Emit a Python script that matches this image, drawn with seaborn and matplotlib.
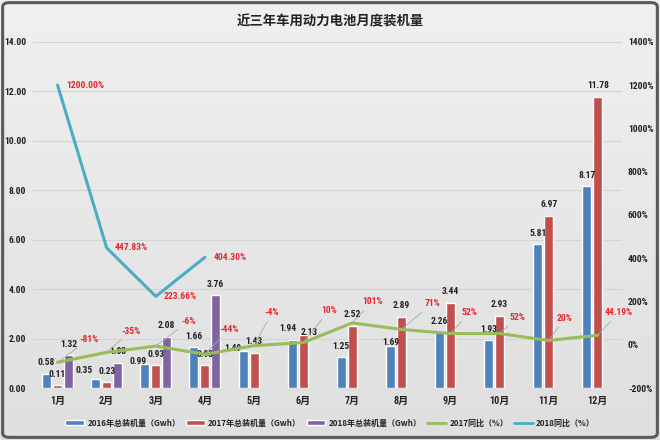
import numpy as np
import pandas as pd
import matplotlib
matplotlib.use("Agg")
import matplotlib.pyplot as plt
import seaborn as sns
from matplotlib import font_manager
from matplotlib.patches import Patch, FancyBboxPatch
from matplotlib.lines import Line2D
from matplotlib.ticker import FormatStrFormatter, FuncFormatter
from matplotlib.colors import LinearSegmentedColormap

# ---------------- data ----------------
months = ["1月", "2月", "3月", "4月", "5月", "6月", "7月", "8月", "9月", "10月", "11月", "12月"]
v2016 = [0.58, 0.35, 0.99, 1.66, 1.49, 1.94, 1.25, 1.69, 2.26, 1.93, 5.81, 8.17]
v2017 = [0.11, 0.23, 0.93, 0.93, 1.43, 2.13, 2.52, 2.89, 3.44, 2.93, 6.97, 11.78]
v2018 = [1.32, 1.03, 2.08, 3.76]
yoy2017 = [-81, -35, -6, -44, -4, 10, 101, 71, 52, 52, 20, 44.19]
yoy2017_labels = ["-81%", "-35%", "-6%", "-44%", "-4%", "10%", "101%", "71%", "52%", "52%", "20%", "44.19%"]
yoy2018 = [1200.00, 447.83, 223.66, 404.30]
yoy2018_labels = ["1200.00%", "447.83%", "223.66%", "404.30%"]
series_names = ["2016年总装机量（Gwh）", "2017年总装机量（Gwh）", "2018年总装机量（Gwh）",
                "2017同比（%）", "2018同比（%）"]
title = "近三年车用动力电池月度装机量"
left_ticks = [0, 2, 4, 6, 8, 10, 12, 14]
right_ticks = [-200, 0, 200, 400, 600, 800, 1000, 1200, 1400]

colors = ["#4F81BD", "#C0504D", "#8064A2", "#9BBB59", "#4BACC6"]
label_red = "#E8262B"

# ---------------- style ----------------
sns.set_theme(style="white")
fl = font_manager.fontManager.ttflist
names = {f.name for f in fl}
num_family = ["Noto Sans CJK SC", "DejaVu Sans"]
num_stretch = "normal"
num_size = 6.0
if "Liberation Sans Narrow" in names:
    num_family = ["Liberation Sans Narrow", "Noto Sans CJK SC", "DejaVu Sans"]
    num_size = 7.0
elif "Roboto Condensed" in names:
    num_family = ["Roboto Condensed", "Noto Sans CJK SC", "DejaVu Sans"]
    num_size = 6.8
elif any(f.name == "DejaVu Sans" and f.stretch == "condensed" and f.weight in ("bold", 700) for f in fl):
    num_family = ["DejaVu Sans", "Noto Sans CJK SC"]
    num_stretch = "condensed"
    num_size = 6.2
plt.rcParams["font.family"] = num_family
plt.rcParams["font.stretch"] = num_stretch
plt.rcParams["axes.unicode_minus"] = False
cjk = ["Noto Sans CJK SC", "DejaVu Sans"]

fig = plt.figure(figsize=(6.6, 4.4), dpi=100)

# background gradient
bg = fig.add_axes([0, 0, 1, 1], zorder=-10)
grad = np.linspace(0, 1, 256).reshape(-1, 1)
cmap = LinearSegmentedColormap.from_list("bg", ["#f0f0f0", "#dfdfdf"])
bg.imshow(grad, aspect="auto", cmap=cmap, extent=[0, 1, 0, 1])
bg.axis("off")
fig.patches.append(FancyBboxPatch((0.004, 0.006), 0.992, 0.988,
                                  boxstyle="round,pad=0,rounding_size=0.01",
                                  transform=fig.transFigure, fill=False,
                                  edgecolor="#5a5a5a", linewidth=2.2))

ax = fig.add_axes([0.05, 0.118, 0.893, 0.787])
ax.set_facecolor("none")

# bars
rows = []
for i, m in enumerate(months):
    rows.append((m, series_names[0], v2016[i]))
    rows.append((m, series_names[1], v2017[i]))
    rows.append((m, series_names[2], v2018[i] if i < len(v2018) else np.nan))
df = pd.DataFrame(rows, columns=["month", "series", "value"])

sns.barplot(data=df, x="month", y="value", hue="series", hue_order=series_names[:3],
            order=months, palette=colors[:3], width=0.67, gap=0.18, saturation=1,
            errorbar=None, legend=False, ax=ax, zorder=2)

ax.set_ylim(0, 14)
ax.set_xlim(-0.5, 11.5)
ax.set_yticks(left_ticks)
ax.yaxis.set_major_formatter(FormatStrFormatter("%.2f"))
ax.grid(axis="y", color="#d4d4d4", linewidth=0.8, zorder=0)
ax.grid(axis="x", visible=False)
ax.set_axisbelow(True)
ax.set_xlabel("")
ax.set_ylabel("")
for s in ax.spines.values():
    s.set_visible(False)
ax.tick_params(axis="both", length=0, labelsize=num_size, colors="#222222")
ax.tick_params(axis="y", pad=5)
ax.tick_params(axis="x", pad=6, labelsize=num_size + 0.4)
for t in ax.get_xticklabels() + ax.get_yticklabels():
    t.set_fontweight("bold")

# bar value labels; a few are nudged like the original (offsets in pixels: dx, height above top)
nudges = {(0, 1): (-12, 9), (0, 2): (-7, 2), (0, 4): (-10, 3), (0, 5): (-4, 12),
          (1, 5): (6, 3), (0, 7): (0, 4)}
bar_offset = 0.67 / 3
series_vals = [v2016, v2017, v2018]
for k, vals in enumerate(series_vals):
    for i, v in enumerate(vals):
        dx, up = nudges.get((k, i), (0, 11))
        ax.annotate(f"{v:.2f}", xy=(i + (k - 1) * bar_offset, v),
                    xytext=(dx / 1.389, up / 1.389), textcoords="offset points",
                    ha="center", va="center", fontsize=num_size, fontweight="bold",
                    color="#222222", zorder=4)

# lines on secondary axis
ax2 = ax.twinx()
x_pos = np.arange(len(months))
sns.lineplot(x=x_pos, y=yoy2017, ax=ax2, color=colors[3], linewidth=2.2, zorder=5)
sns.lineplot(x=x_pos[:len(yoy2018)], y=yoy2018, ax=ax2, color=colors[4], linewidth=2.2, zorder=5)
ax2.set_ylim(-200, 1400)
ax2.set_xlim(-0.5, 11.5)
ax2.set_yticks(right_ticks)
ax2.yaxis.set_major_formatter(FuncFormatter(lambda v, p: f"{int(v)}%"))
ax2.grid(False)
ax2.set_ylabel("")
for s in ax2.spines.values():
    s.set_visible(False)
ax2.tick_params(axis="y", length=0, labelsize=num_size, colors="#222222", pad=4)
for t in ax2.get_yticklabels():
    t.set_fontweight("bold")

# 2017 yoy labels with leader lines (offsets in pixels)
offsets_px = [(31, -23), (24, -21), (33, -25), (24, -25), (18, -33), (26, -32),
              (20, -21), (31, -26), (19, -21), (18, -16), (16, -22), (21, -23)]
for i, (lab, v) in enumerate(zip(yoy2017_labels, yoy2017)):
    dx, dy = offsets_px[i]
    ax2.annotate(lab, xy=(i, v), xytext=(dx / 1.389, -dy / 1.389), textcoords="offset points",
                 ha="center", va="center", fontsize=num_size, fontweight="bold", color=label_red,
                 arrowprops=dict(arrowstyle="-", color="#a8a8a8", lw=0.6, shrinkA=1, shrinkB=0),
                 zorder=6)

for i, (lab, v) in enumerate(zip(yoy2018_labels, yoy2018)):
    ax2.annotate(lab, xy=(i, v), xytext=(6, 0), textcoords="offset points",
                 ha="left", va="center", fontsize=num_size, fontweight="bold", color=label_red, zorder=6)

# title
fig.text(0.5, 1 - 21 / 440, title, ha="center", va="center", fontsize=9.6, fontweight="bold",
         color="#222222", family=cjk, fontstretch="normal")

# legend
handles = [Patch(facecolor=colors[0]), Patch(facecolor=colors[1]), Patch(facecolor=colors[2]),
           Line2D([], [], color=colors[3], lw=2), Line2D([], [], color=colors[4], lw=2)]
leg = fig.legend(handles, series_names, loc="center", bbox_to_anchor=(0.5, 1 - 423 / 440),
                 ncol=5, frameon=False, handlelength=2.3, handleheight=0.6,
                 handletextpad=0.4, columnspacing=0.75,
                 prop={"family": cjk, "size": 5.8, "weight": "bold", "stretch": "normal"})
for t in leg.get_texts():
    t.set_color("#222222")

fig.savefig("out.png", dpi=100)
